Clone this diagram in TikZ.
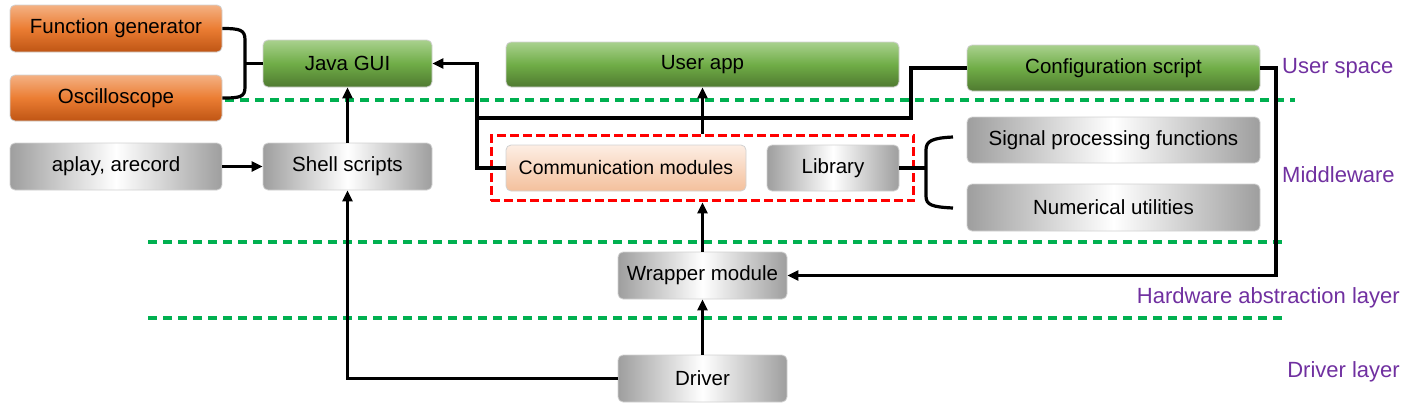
\documentclass[tikz,border=0pt]{standalone}
\usepackage{fontspec}
\setmainfont{Liberation Sans}
\usetikzlibrary{arrows.meta,fit}
\definecolor{layerpurple}{HTML}{7030A0}
\definecolor{layergreen}{HTML}{00B050}
\definecolor{orangetop}{HTML}{F4B183}
\definecolor{orangemid}{HTML}{EB7D33}
\definecolor{orangebot}{HTML}{BF5514}
\definecolor{greentop}{HTML}{A9D18E}
\definecolor{greenmid}{HTML}{70AD47}
\definecolor{greenbot}{HTML}{4F7A30}
\definecolor{peachtop}{HTML}{FDEEE4}
\definecolor{peachbot}{HTML}{F4C09C}

\begin{document}
\begin{tikzpicture}[x=1pt,y=-1pt,
	box/.style={rounded corners=5pt,draw=black!18,line width=0.8pt,align=center,
		font=\fontsize{20.5}{24}\selectfont,inner sep=0pt},
	orangebox/.style={box,top color=orangetop,bottom color=orangebot,middle color=orangemid},
	greenbox/.style={box,top color=greentop,bottom color=greenbot,middle color=greenmid},
	graybox/.style={box,left color=black!38,right color=black!38,middle color=white},
	peachbox/.style={box,top color=peachtop,bottom color=peachbot},
	arr/.style={line width=3.2pt,-{Triangle[length=11pt,width=10pt]}},
	wire/.style={line width=3.2pt},
	layer/.style={layergreen,line width=3.5pt,dash pattern=on 9pt off 6pt},
	layertext/.style={layerpurple,font=\fontsize{22}{26}\selectfont,inner sep=0pt}]
	\useasboundingbox (0,0) rectangle (1406,408);

	\draw[layer] (225,100) -- (1295,100);
	\draw[layer] (148,242) -- (1285,242);
	\draw[layer] (148,318) -- (1285,318);

	\node[orangebox,minimum width=212pt,minimum height=47pt] (fgen) at (116,28.5) {Function generator};
	\node[orangebox,minimum width=212pt,minimum height=46pt] (osc) at (116,98) {Oscilloscope};
	\node[graybox,minimum width=212pt,minimum height=47pt] (aplay) at (116,166.5) {aplay, arecord};
	\node[greenbox,minimum width=169pt,minimum height=47pt] (java) at (347.5,63.5) {Java GUI};
	\node[graybox,minimum width=169pt,minimum height=47pt] (shell) at (347.5,166.5) {Shell scripts};
	\node[greenbox,minimum width=393pt,minimum height=45pt] (user) at (702.5,64.5) {User app};
	\node[greenbox,minimum width=293pt,minimum height=46pt] (cfg) at (1113.5,68) {Configuration script};
	\node[peachbox,minimum width=240pt,minimum height=46pt,font=\fontsize{19.5}{23}\selectfont] (comm) at (626,168) {Communication modules};
	\node[graybox,minimum width=132pt,minimum height=46pt] (lib) at (833,168) {Library};
	\node[graybox,minimum width=293pt,minimum height=46pt] (sig) at (1113.5,140) {Signal processing functions};
	\node[graybox,minimum width=293pt,minimum height=47pt] (num) at (1113.5,207.5) {Numerical utilities};
	\node[graybox,minimum width=169pt,minimum height=47pt] (wrap) at (702.5,275.5) {Wrapper module};
	\node[graybox,minimum width=169pt,minimum height=47pt] (drv) at (702.5,378.5) {Driver};
	\node[fit=(comm)(lib),draw=red,line width=3pt,dash pattern=on 9pt off 4pt,
		inner xsep=14.5pt,inner ysep=9.5pt] (mid) {};

	\node[layertext,anchor=west] (lspace) at (1282,68) {User space};
	\node[layertext,anchor=west] (lmid) at (1282,175) {Middleware};
	\node[layertext,anchor=east] (lhal) at (1400,298) {Hardware abstraction layer};
	\node[layertext,anchor=east] (ldrv) at (1400,372) {Driver layer};

	\coordinate (fork) at (245,63.5);
	\coordinate (libfork) at (926,168);
	\coordinate (j1) at (477,118);
	\coordinate (j2) at (911,118);
	\coordinate (c1) at (1276,68);

	\draw[wire] (fgen.east) .. controls +(18,0) and +(0,-10) .. (245,40) -- (245,87)
		.. controls +(0,10) and +(18,0) .. (osc.east);
	\draw[wire] (fork) -- (java.west);
	\draw[wire] (lib.east) -- (libfork);
	\draw[wire] (953,137) .. controls (932,138) and (926,141) .. (926,150) -- (926,196)
		.. controls (926,205) and (932,207) .. (953,208);

	\draw[arr] (aplay.east) -- (shell.west);
	\draw[arr] (shell.north) -- (java.south);
	\draw[arr] (comm.west) -| (j1) |- (java.east);
	\draw[wire] (cfg.west) -| (j2) -- (j1);
	\draw[arr] (mid.north) -- (user.south);
	\draw[arr] (wrap.north) -- (mid.south);
	\draw[arr] (drv.north) -- (wrap.south);
	\draw[arr] (drv.west) -| (shell.south);
	\draw[arr] (cfg.east) -- (c1) |- (wrap.east);
\end{tikzpicture}
\end{document}
